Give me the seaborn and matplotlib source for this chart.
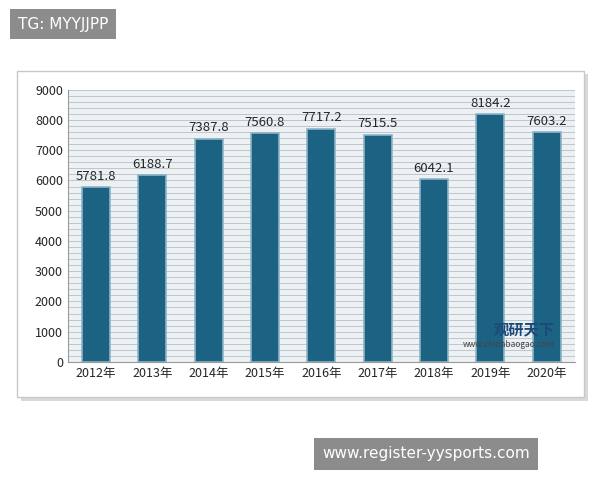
import matplotlib.pyplot as plt
import seaborn as sns
import pandas as pd
from matplotlib.patches import Rectangle

years = ["2012年", "2013年", "2014年", "2015年", "2016年", "2017年", "2018年", "2019年", "2020年"]
values = [5781.8, 6188.7, 7387.8, 7560.8, 7717.2, 7515.5, 6042.1, 8184.2, 7603.2]

df = pd.DataFrame({"year": years, "value": values})

sns.set_style("white")
plt.rcParams['font.family'] = ['Noto Sans CJK SC', 'DejaVu Sans']

fig = plt.figure(figsize=(6, 4.8), dpi=100)
# outer frame with shadow
fig.patches.append(Rectangle((0.035, 0.165), 0.945, 0.68, transform=fig.transFigure,
                             facecolor="#d9d9d9", edgecolor="none", zorder=-2))
fig.patches.append(Rectangle((0.028, 0.172), 0.945, 0.68, transform=fig.transFigure,
                             facecolor="white", edgecolor="#c8c8c8", lw=1, zorder=-1))

ax = fig.add_axes([0.113, 0.246, 0.845, 0.567])
ax.set_zorder(1)
ax.set_facecolor("#edf1f4")
ax.set_axisbelow(True)
sns.barplot(data=df, x="year", y="value", color="#1b6283", width=0.5,
            edgecolor="#8fb3c6", linewidth=1.2, saturation=1, ax=ax)
ax.set_ylim(0, 9000)
ax.set_yticks(range(0, 9001, 1000))
ax.set_yticks(range(0, 9001, 200), minor=True)
ax.grid(axis="y", which="both", color="#bcc6cd", lw=0.7)
ax.tick_params(axis="y", which="minor", length=0)
ax.tick_params(labelsize=9, length=0)
for c in ax.containers:
    ax.bar_label(c, labels=[f"{v:.1f}" for v in values], fontsize=9.5, padding=3)
ax.set_xlabel("")
ax.set_ylabel("")
for s in ["top", "right"]:
    ax.spines[s].set_visible(False)
ax.spines["left"].set_color("#999999")
ax.spines["bottom"].set_color("#999999")

ax.text(0.96, 0.1, "观研天下", transform=ax.transAxes, ha="right", fontsize=11,
        color="#1b4a7a", fontweight="bold", zorder=5)
ax.text(0.96, 0.055, "www.chinabaogao.com", transform=ax.transAxes, ha="right",
        fontsize=6, color="#444444", zorder=5)

fig.text(0.03, 0.95, "TG: MYYJJPP", fontsize=11, color="white", va="center",
         family="DejaVu Sans",
         bbox=dict(boxstyle="square,pad=0.5", fc="#8c8c8c", ec="none"))
fig.text(0.537, 0.055, "www.register-yysports.com", fontsize=11, color="white", va="center",
         family="DejaVu Sans",
         bbox=dict(boxstyle="square,pad=0.55", fc="#8c8c8c", ec="none"))

fig.savefig("out.png", dpi=100)
